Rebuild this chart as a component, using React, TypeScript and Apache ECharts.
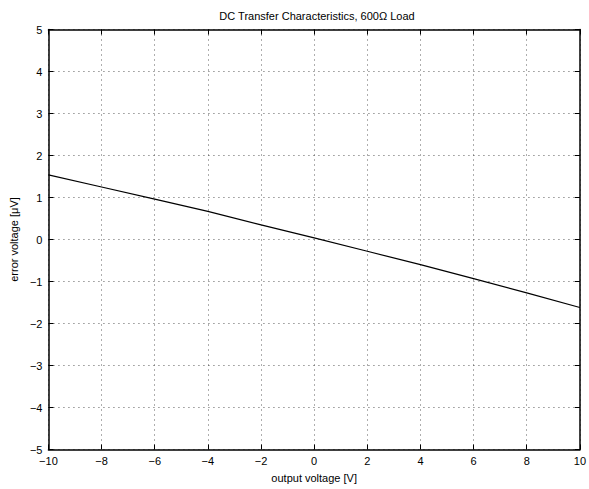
import React, { useEffect, useRef } from "react";
import * as echarts from "echarts";

const outputVoltage = [-10, -8, -6, -4, -2, 0, 2, 4, 6, 8, 10];
const errorVoltage = [1.54, 1.25, 0.96, 0.67, 0.35, 0.04, -0.28, -0.6, -0.93, -1.27, -1.62];
const titleText = "DC Transfer Characteristics, 600Ω Load";
const xName = "output voltage [V]";
const yName = "error voltage [μV]";

const FONT = "'Liberation Sans', Arial, Helvetica, sans-serif";
const fmt = (v: number) => String(v).replace("-", "\u2212");

export default function App() {
  const ref = useRef<HTMLDivElement>(null);
  useEffect(() => {
    if (!ref.current) return;
    const chart = echarts.init(ref.current, undefined, { renderer: "svg" });
    const gridLine = { show: true, lineStyle: { color: "#333", width: 0.8, type: [1, 4] as any } };
    const tickIn = { show: true, inside: true, length: 5, lineStyle: { color: "#000", width: 1 } };
    const axisLine = { show: true, onZero: false, lineStyle: { color: "#000", width: 1.5 } };
    chart.setOption({
      animation: false,
      backgroundColor: "#fff",
      title: {
        text: titleText,
        left: 312,
        textAlign: "center",
        top: 5,
        textStyle: { fontFamily: FONT, fontSize: 11, fontWeight: "normal", color: "#000" },
      },
      grid: { left: 44, right: 9, top: 29.5, bottom: 39.5, containLabel: false },
      xAxis: [
        {
          type: "value",
          min: -10,
          max: 10,
          interval: 2,
          position: "bottom",
          name: xName,
          nameLocation: "middle",
          nameGap: 23,
          nameTextStyle: { fontFamily: FONT, fontSize: 11, color: "#000" },
          axisLine,
          axisTick: tickIn,
          axisLabel: { formatter: fmt, fontFamily: FONT, fontSize: 11, color: "#000", margin: 6 },
          splitLine: gridLine,
        },
        {
          type: "value",
          min: -10,
          max: 10,
          interval: 2,
          position: "top",
          axisLine,
          axisTick: tickIn,
          axisLabel: { show: false },
          splitLine: { show: false },
        },
      ],
      yAxis: [
        {
          type: "value",
          min: -5,
          max: 5,
          interval: 1,
          position: "left",
          name: yName,
          nameLocation: "middle",
          nameGap: 26,
          nameRotate: 90,
          nameTextStyle: { fontFamily: FONT, fontSize: 11, color: "#000" },
          axisLine,
          axisTick: tickIn,
          axisLabel: { formatter: fmt, fontFamily: FONT, fontSize: 11, color: "#000", margin: 6 },
          splitLine: gridLine,
        },
        {
          type: "value",
          min: -5,
          max: 5,
          interval: 1,
          position: "right",
          axisLine,
          axisTick: tickIn,
          axisLabel: { show: false },
          splitLine: { show: false },
        },
      ],
      series: [
        {
          type: "line",
          data: outputVoltage.map((x, i) => [x, errorVoltage[i]]),
          showSymbol: false,
          smooth: false,
          lineStyle: { color: "#000", width: 1.2 },
          xAxisIndex: 0,
          yAxisIndex: 0,
        },
      ],
    });
    return () => chart.dispose();
  }, []);
  return <div ref={ref} style={{ width: 589, height: 489, position: "absolute", left: 0, top: 0 }} />;
}
